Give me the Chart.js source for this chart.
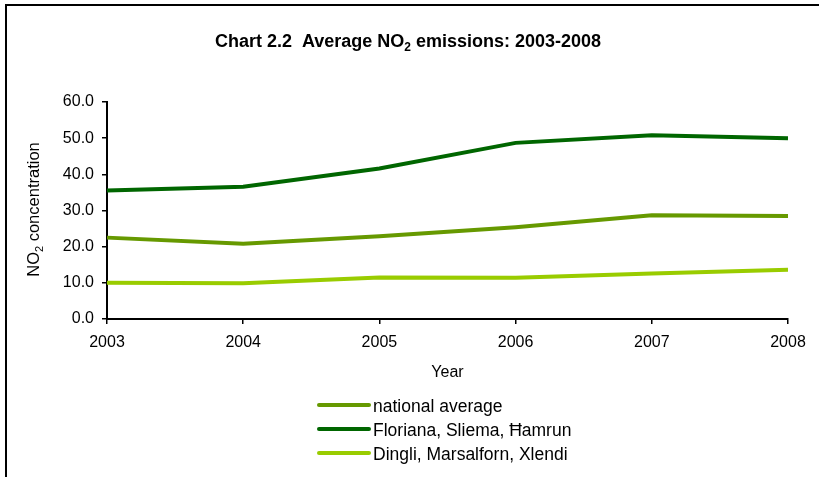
<!DOCTYPE html>
<html>
<head>
<meta charset="utf-8">
<script src="https://cdn.jsdelivr.net/npm/chart.js@4/dist/chart.umd.min.js"></script>
<style>
  html, body { margin: 0; padding: 0; background: #fff; }
  #wrap { width: 819px; height: 477px; position: relative; }
</style>
</head>
<body>
<div id="wrap"><canvas id="c" width="819" height="477"></canvas></div>
<script>
const years = ['2003', '2004', '2005', '2006', '2007', '2008'];
const nationalAverage = [22.5, 20.8, 22.9, 25.4, 28.7, 28.5];
const florianaSliemaHamrun = [35.5, 36.6, 41.6, 48.7, 50.8, 50.0];
const dingliMarsalfornXlendi = [10.0, 9.9, 11.5, 11.4, 12.6, 13.6];
const seriesNames = ['national average', 'Floriana, Sliema, \u0126amrun', 'Dingli, Marsalforn, Xlendi'];
const seriesColors = ['#669900', '#006600', '#99cc00'];
const titleParts = ['Chart 2.2  Average NO', '2', ' emissions: 2003-2008'];
const yTitleParts = ['NO', '2', ' concentration'];
const xTitle = 'Year';

const FONT = '"Liberation Sans", Arial, sans-serif';

function drawSubText(ctx, parts, x, y, size, bold, align) {
  const w = bold ? 'bold ' : '';
  const mainFont = w + size + 'px ' + FONT;
  const subFont = w + Math.round(size * 0.65) + 'px ' + FONT;
  ctx.font = mainFont; const w0 = ctx.measureText(parts[0]).width;
  ctx.font = subFont; const w1 = ctx.measureText(parts[1]).width;
  ctx.font = mainFont; const w2 = ctx.measureText(parts[2]).width;
  const total = w0 + w1 + w2;
  let sx = align === 'center' ? x - total / 2 : x;
  ctx.textAlign = 'left';
  ctx.textBaseline = 'alphabetic';
  ctx.fillStyle = '#000';
  ctx.font = mainFont; ctx.fillText(parts[0], sx, y);
  ctx.font = subFont; ctx.fillText(parts[1], sx + w0, y + size * 0.22);
  ctx.font = mainFont; ctx.fillText(parts[2], sx + w0 + w1, y);
}

const decorPlugin = {
  id: 'decor',
  beforeDraw(chart) {
    const ctx = chart.ctx;
    ctx.save();
    ctx.fillStyle = '#fff';
    ctx.fillRect(0, 0, chart.width, chart.height);
    ctx.fillStyle = '#000';
    ctx.fillRect(5, 4, 2, chart.height - 4);
    ctx.fillRect(5, 4, chart.width - 5, 2);
    ctx.restore();
  },
  afterDraw(chart) {
    const ctx = chart.ctx;
    const area = chart.chartArea;
    ctx.save();
    // title
    drawSubText(ctx, titleParts, 408, 47, 18, true, 'center');
    // y title
    ctx.save();
    ctx.translate(39, (area.top + area.bottom) / 2 - 1);
    ctx.rotate(-Math.PI / 2);
    drawSubText(ctx, yTitleParts, 0, 0, 16.5, false, 'center');
    ctx.restore();
    // x title
    ctx.font = '16px ' + FONT;
    ctx.fillStyle = '#000';
    ctx.textAlign = 'center';
    ctx.textBaseline = 'alphabetic';
    ctx.fillText(xTitle, (area.left + area.right) / 2, 377);
    // legend
    const ys = [405, 429, 453];
    chart.data.datasets.forEach((ds, i) => {
      ctx.strokeStyle = ds.borderColor;
      ctx.lineWidth = 4;
      ctx.lineCap = 'round';
      ctx.beginPath();
      ctx.moveTo(319, ys[i]);
      ctx.lineTo(369, ys[i]);
      ctx.stroke();
      ctx.font = '17.5px ' + FONT;
      ctx.fillStyle = '#000';
      ctx.textAlign = 'left';
      ctx.textBaseline = 'middle';
      ctx.fillText(ds.label, 373, ys[i] + 2);
    });
    ctx.restore();
  }
};

new Chart(document.getElementById('c'), {
  type: 'line',
  data: {
    labels: years,
    datasets: [
      { label: seriesNames[0], data: nationalAverage, borderColor: seriesColors[0] },
      { label: seriesNames[1], data: florianaSliemaHamrun, borderColor: seriesColors[1] },
      { label: seriesNames[2], data: dingliMarsalfornXlendi, borderColor: seriesColors[2] }
    ].map(d => Object.assign(d, { borderWidth: 4, pointRadius: 0, tension: 0, fill: false, borderCapStyle: 'butt' }))
  },
  options: {
    responsive: false,
    animation: false,
    devicePixelRatio: 1,
    layout: { padding: { top: 102, right: 31, bottom: 0, left: 0 } },
    plugins: { legend: { display: false }, title: { display: false }, tooltip: { enabled: false } },
    scales: {
      x: {
        offset: false,
        grid: { drawOnChartArea: false, drawTicks: true, tickLength: 5, color: '#000', lineWidth: 1.5 },
        border: { color: '#000', width: 2 },
        ticks: { color: '#000', font: { family: FONT, size: 16 }, padding: 9, maxRotation: 0 },
        afterFit(scale) { scale.height = 158; }
      },
      y: {
        min: 0, max: 60,
        grid: { drawOnChartArea: false, drawTicks: true, tickLength: 5, color: '#000', lineWidth: 1.5 },
        border: { color: '#000', width: 2 },
        ticks: { stepSize: 10, color: '#000', font: { family: FONT, size: 16 }, padding: 8,
                 callback: v => Number(v).toFixed(1) },
        afterFit(scale) { scale.width = 107; }
      }
    }
  },
  plugins: [decorPlugin]
});
</script>
</body>
</html>
